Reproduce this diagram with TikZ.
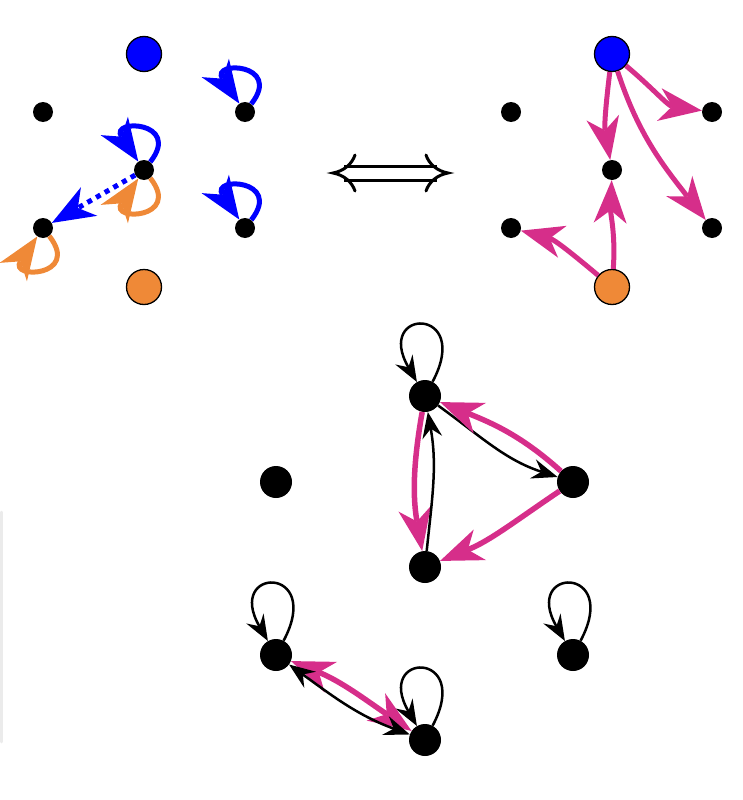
\documentclass[tikz,border=0pt]{standalone}
\usetikzlibrary{arrows.meta}
\definecolor{myblue}{RGB}{0,0,255}
\definecolor{myorange}{RGB}{239,137,55}
\definecolor{mymag}{RGB}{214,46,138}
\tikzset{
  sdot/.style={circle, fill=black, inner sep=0pt, minimum size=20pt},
  ldot/.style={circle, fill=black, inner sep=0pt, minimum size=32pt},
  bignode/.style={circle, draw=black, line width=1.3pt, inner sep=0pt, minimum size=35pt},
  bigtip/.tip={Stealth[length=43pt, width=33pt, inset=13pt, line width=0pt]},
  smalltip/.tip={Stealth[length=26pt, width=20pt, inset=9pt, line width=0pt]},
  bluearc/.style={draw=myblue, line width=5pt, -bigtip},
  orangearc/.style={draw=myorange, line width=5pt, -bigtip},
  magarc/.style={draw=mymag, line width=5pt, -bigtip},
  magarcb/.style={draw=mymag, line width=5.5pt, -bigtip},
  blackarc/.style={draw=black, line width=2.5pt, -smalltip},
  eqline/.style={draw=black, line width=3pt},
}
\begin{document}
\begin{tikzpicture}[x=1pt,y=1pt]
\useasboundingbox (0,0) rectangle (743,-800);
% faint edge
\draw[black!8, line width=2.5pt, line cap=round] (1.5,-512) -- (1.5,-742);

% ---------- top-left graph ----------
\node[bignode, fill=myblue] (LB) at (144,-54) {};
\node[sdot] (L1) at (43,-112) {};
\node[sdot] (L2) at (245,-112) {};
\node[sdot] (L3) at (144,-170) {};
\node[sdot] (L4) at (43,-228) {};
\node[sdot] (L5) at (245,-228) {};
\node[bignode, fill=myorange] (LO) at (144,-287) {};

\draw[bluearc] (L2) to[out=52, in=124, min distance=52pt] (L2);
\draw[bluearc] (L3) to[out=52, in=124, min distance=52pt] (L3);
\draw[bluearc] (L5) to[out=52, in=124, min distance=52pt] (L5);
\draw[orangearc] (L3) to[out=-52, in=-124, min distance=52pt] (L3);
\draw[orangearc] (L4) to[out=-52, in=-124, min distance=52pt] (L4);
\draw[draw=myblue, line width=5pt, dash pattern=on 5pt off 5pt, -bigtip] (L3) -- (L4);

% ---------- equivalence symbol ----------
\draw[eqline] (344,-166) -- (437,-166);
\draw[eqline] (344,-180) -- (437,-180);
\draw[eqline, line cap=round] (355,-155) .. controls (352,-164) and (344,-171) .. (333,-173)
      .. controls (344,-175) and (352,-182) .. (355,-191);
\draw[eqline, line cap=round] (426,-155) .. controls (429,-164) and (437,-171) .. (448,-173)
      .. controls (437,-175) and (429,-182) .. (426,-191);

% ---------- top-right graph ----------
\node[bignode, fill=myblue] (RB) at (612,-54) {};
\node[sdot] (R1) at (511,-112) {};
\node[sdot] (R2) at (712,-112) {};
\node[sdot] (R3) at (612,-170) {};
\node[sdot] (R4) at (511,-228) {};
\node[sdot] (R5) at (712,-228) {};
\node[bignode, fill=myorange] (RO) at (612,-287) {};

\draw[magarc] (RB) to[out=-97, in=100] (R3);
\draw[magarc] (RB) to[out=-40, in=172] (R2);
\draw[magarc] (RB) to[out=-72, in=128] (R5);
\draw[magarc] (RO) to[out=86, in=-92] (R3);
\draw[magarc] (RO) to[out=140, in=-15] (R4);

% ---------- bottom graph ----------
\node[ldot] (T) at (425,-396) {};
\node[ldot] (W) at (276,-482) {};
\node[ldot] (E) at (573,-482) {};
\node[ldot] (M) at (425,-567) {};
\node[ldot] (SW) at (276,-655) {};
\node[ldot] (SE) at (573,-655) {};
\node[ldot] (S) at (425,-740) {};

\draw[blackarc] (T) to[out=62, in=120, min distance=86pt] (T);
\draw[blackarc] (SW) to[out=62, in=120, min distance=86pt] (SW);
\draw[blackarc] (SE) to[out=62, in=120, min distance=86pt] (SE);
\draw[blackarc] (S) to[out=62, in=120, min distance=86pt] (S);

\draw[blackarc] (T) to[out=-36, in=162] (E);
\draw[magarcb] (E) to[out=138, in=-22] (T);
\draw[magarcb] (T) to[out=-100, in=100] (M);
\draw[blackarc] (M) to[out=84, in=-80] (T);
\draw[magarcb] (E) to[out=-146, in=22] (M);
\draw[magarcb, bigtip-bigtip] (SW) to[out=-22, in=146] (S);
\draw[blackarc, smalltip-smalltip] (SW) to[out=-36, in=160] (S);
\end{tikzpicture}
\end{document}
